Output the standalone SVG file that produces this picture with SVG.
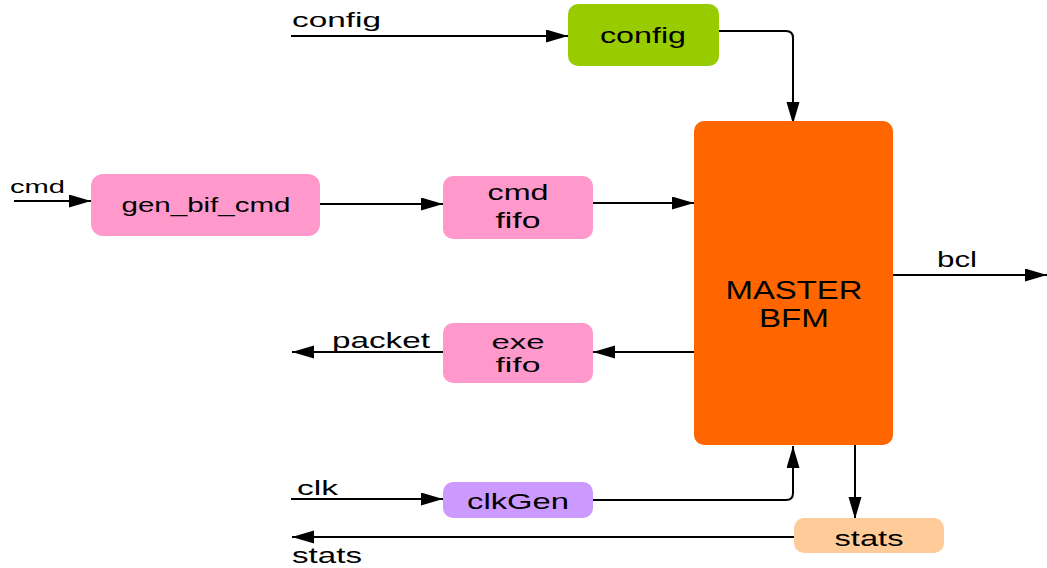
<svg xmlns="http://www.w3.org/2000/svg" width="1047" height="568" viewBox="0 0 1047 568">
<defs>
<style>
.t{font-family:"Liberation Sans",Arial,sans-serif;fill:#000;}
.c{text-anchor:middle;}
.w{stroke:#000;stroke-width:2;fill:none;}
</style>
<marker id="ah" markerUnits="userSpaceOnUse" markerWidth="24" markerHeight="14" refX="22" refY="6.5" orient="auto">
<path d="M0,0 L22,6.5 L0,13 z" fill="#000"/>
</marker>
</defs>
<rect width="1047" height="568" fill="#fff"/>
<g id="connectors">
<path class="w" d="M291,36 H568" marker-end="url(#ah)"/>
<path class="w" d="M719,31 H786 Q793,31 793,38 V124" marker-end="url(#ah)"/>
<path class="w" d="M14,201 H91" marker-end="url(#ah)"/>
<path class="w" d="M320,204 H443" marker-end="url(#ah)"/>
<path class="w" d="M593,203 H694" marker-end="url(#ah)"/>
<path class="w" d="M694,352 H593" marker-end="url(#ah)"/>
<path class="w" d="M443,352 H292" marker-end="url(#ah)"/>
<path class="w" d="M893,275 H1047" marker-end="url(#ah)"/>
<path class="w" d="M291,499 H443" marker-end="url(#ah)"/>
<path class="w" d="M593,500 H786 Q793,500 793,493 V446" marker-end="url(#ah)"/>
<path class="w" d="M855,445 V519" marker-end="url(#ah)"/>
<path class="w" d="M794,537 H292" marker-end="url(#ah)"/>
</g>
<g id="config">
<rect x="568" y="4" width="151" height="62" rx="10" fill="#99cc00"/>
<text class="t c" x="643" y="43" font-size="22" textLength="86" lengthAdjust="spacingAndGlyphs">config</text>
</g>
<g id="master_bfm">
<rect x="694" y="121" width="199" height="324" rx="10" fill="#ff6600"/>
<text class="t c" x="794" y="299" font-size="26" textLength="137" lengthAdjust="spacingAndGlyphs">MASTER</text>
<text class="t c" x="794" y="327" font-size="26" textLength="70" lengthAdjust="spacingAndGlyphs">BFM</text>
</g>
<g id="gen_bif_cmd">
<rect x="91" y="174" width="229" height="62" rx="12" fill="#ff99cc"/>
<text class="t c" x="206" y="212" font-size="20" textLength="169" lengthAdjust="spacingAndGlyphs">gen_bif_cmd</text>
</g>
<g id="cmd_fifo">
<rect x="443" y="176" width="150" height="63" rx="10" fill="#ff99cc"/>
<text class="t c" x="518" y="200" font-size="22" textLength="61" lengthAdjust="spacingAndGlyphs">cmd</text>
<text class="t c" x="518" y="228" font-size="22" textLength="45" lengthAdjust="spacingAndGlyphs">fifo</text>
</g>
<g id="exe_fifo">
<rect x="443" y="323" width="150" height="60" rx="10" fill="#ff99cc"/>
<text class="t c" x="518" y="349" font-size="21" textLength="53" lengthAdjust="spacingAndGlyphs">exe</text>
<text class="t c" x="518" y="372" font-size="21" textLength="45" lengthAdjust="spacingAndGlyphs">fifo</text>
</g>
<g id="clkGen">
<rect x="443" y="482" width="150" height="36" rx="10" fill="#cc99ff"/>
<text class="t c" x="518" y="509" font-size="22" textLength="102" lengthAdjust="spacingAndGlyphs">clkGen</text>
</g>
<g id="stats">
<rect x="794" y="518" width="150" height="35" rx="10" fill="#ffcc99"/>
<text class="t c" x="869" y="546" font-size="22" textLength="69" lengthAdjust="spacingAndGlyphs">stats</text>
</g>
<g id="labels">
<text class="t" x="292" y="27" font-size="21" textLength="89" lengthAdjust="spacingAndGlyphs">config</text>
<text class="t" x="10" y="193" font-size="19" textLength="55" lengthAdjust="spacingAndGlyphs">cmd</text>
<text class="t" x="332" y="348" font-size="22" textLength="98" lengthAdjust="spacingAndGlyphs">packet</text>
<text class="t" x="937" y="267" font-size="22" textLength="40" lengthAdjust="spacingAndGlyphs">bcl</text>
<text class="t" x="297" y="495" font-size="21" textLength="41" lengthAdjust="spacingAndGlyphs">clk</text>
<text class="t" x="292" y="563" font-size="22" textLength="70" lengthAdjust="spacingAndGlyphs">stats</text>
</g>
</svg>
